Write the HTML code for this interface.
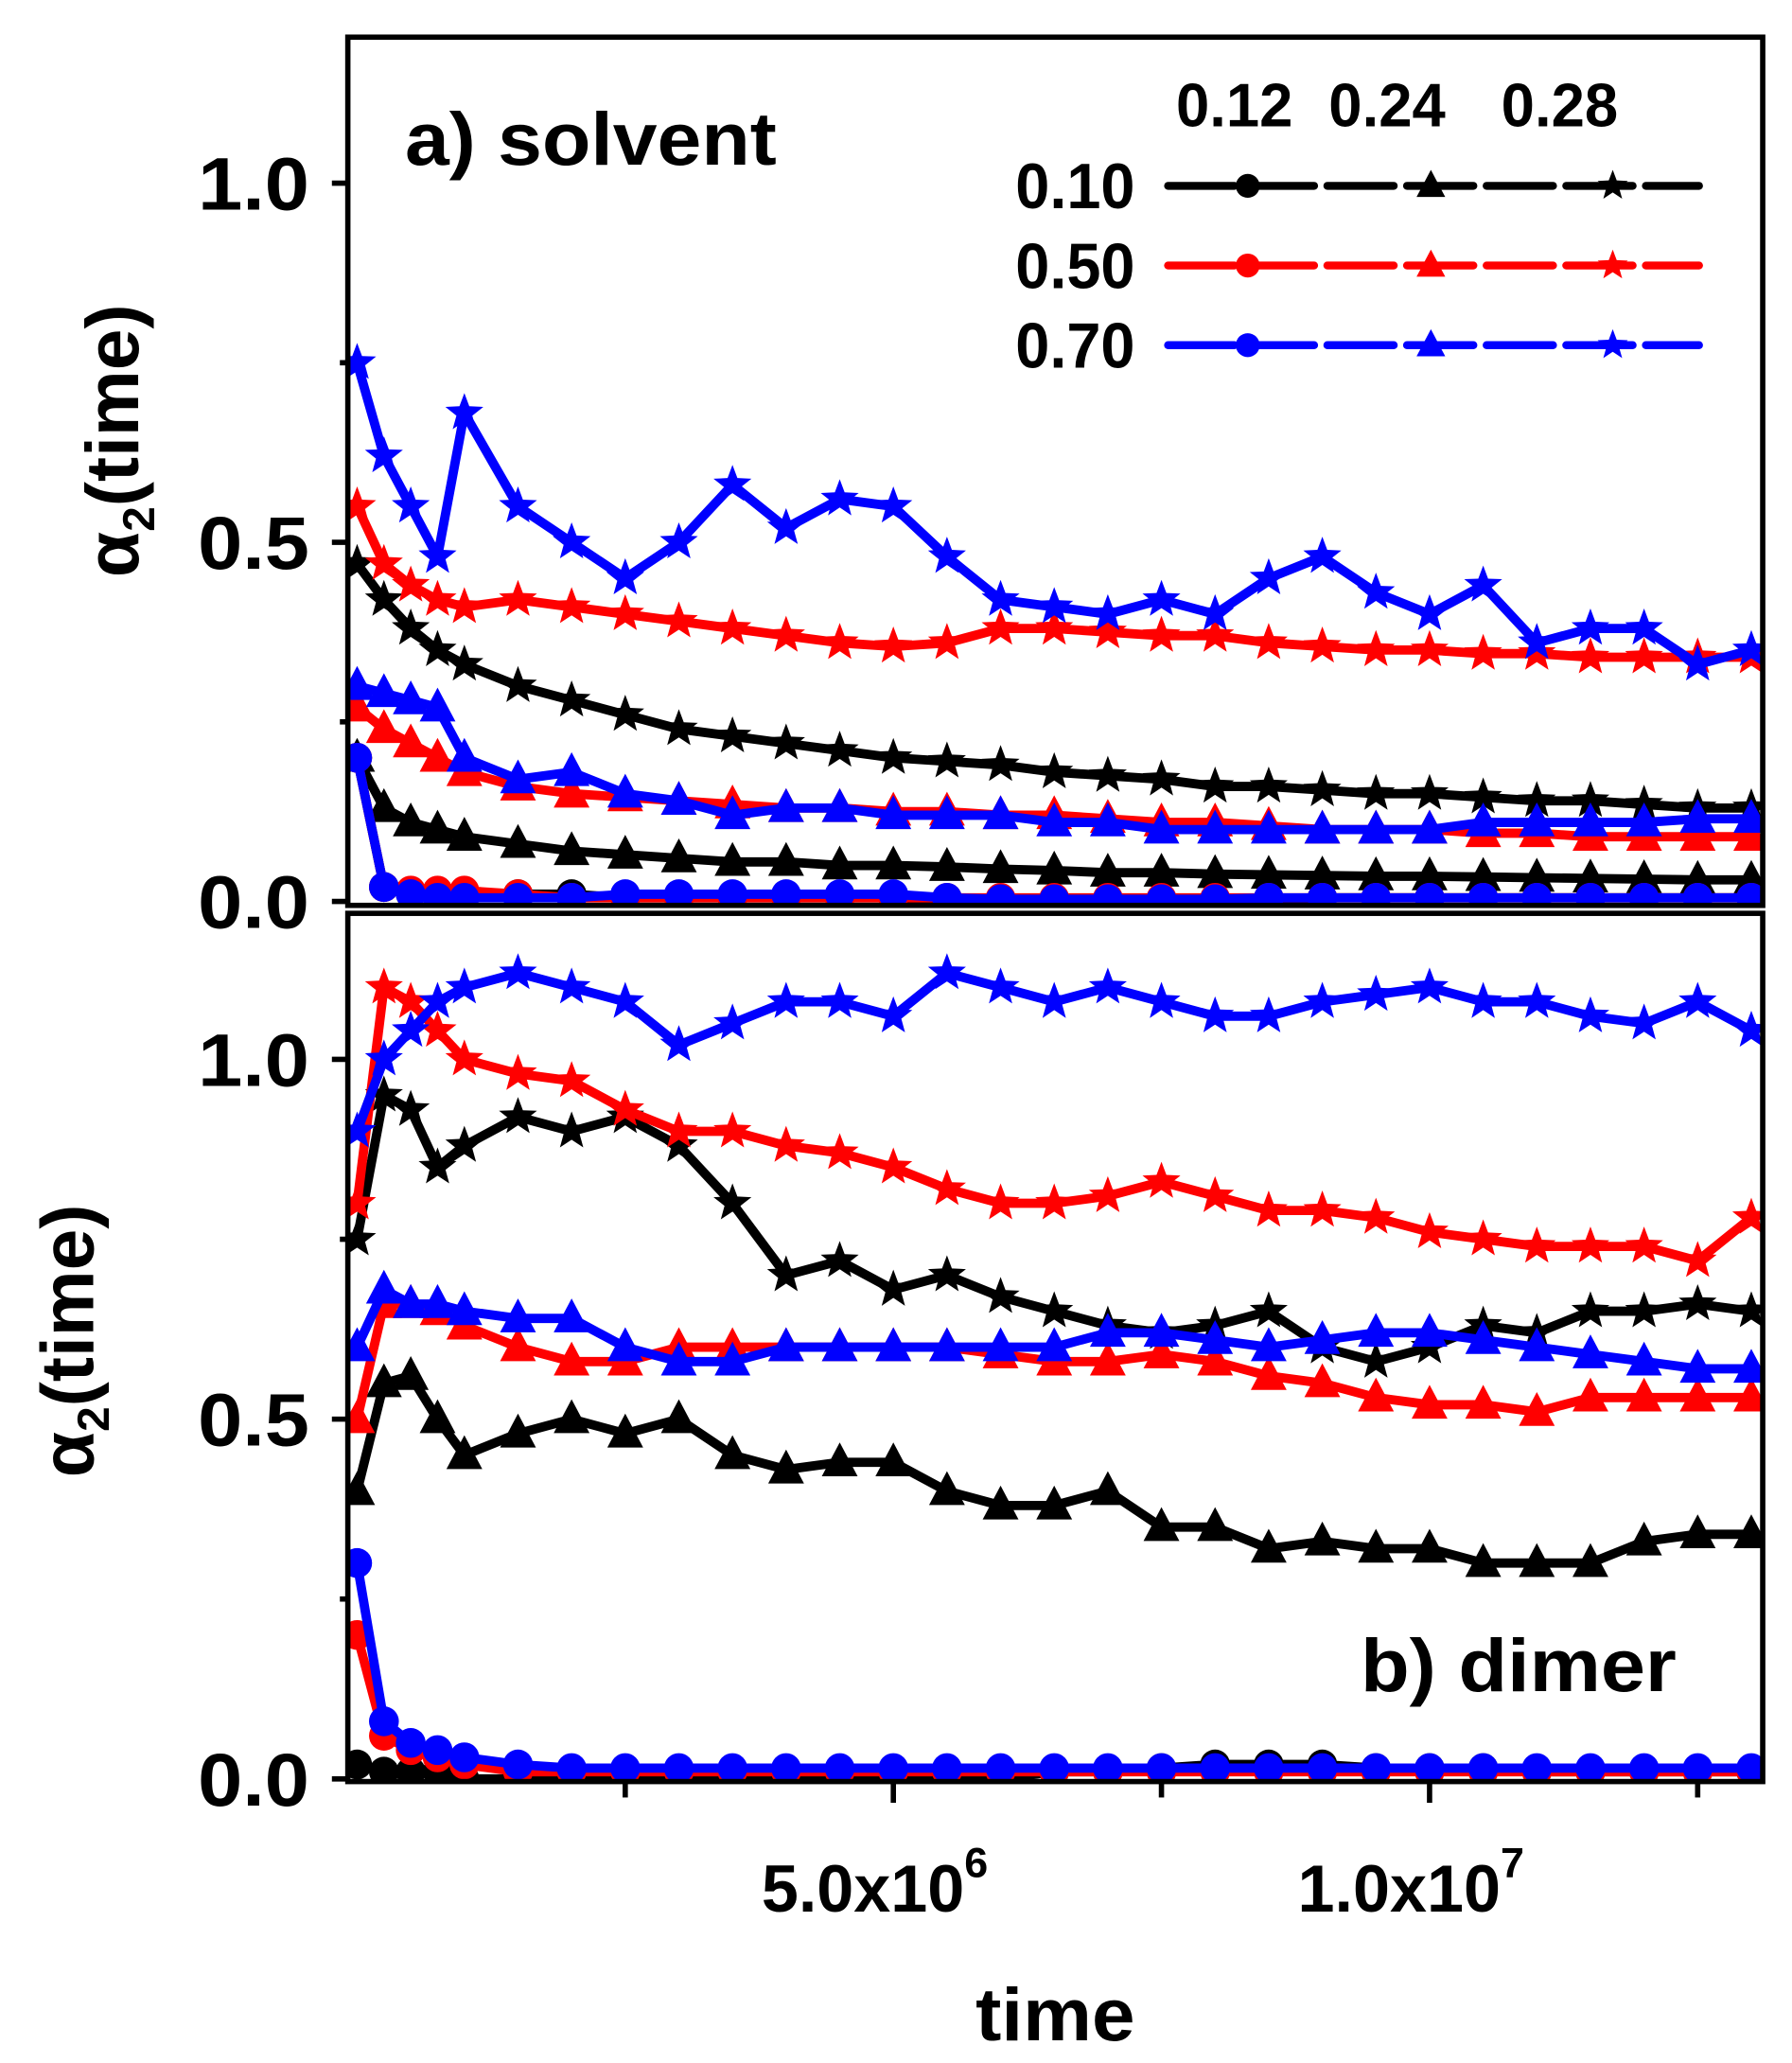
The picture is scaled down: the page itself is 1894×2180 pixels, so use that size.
<!DOCTYPE html>
<html><head><meta charset="utf-8"><title>alpha2 vs time</title>
<style>html,body{margin:0;padding:0;background:#fff}svg{display:block}text{font-family:"Liberation Sans",Arial,sans-serif;font-weight:bold;fill:#000}</style></head>
<body>
<svg id="chart" width="1894" height="2180" viewBox="0 0 1350 1554" xmlns="http://www.w3.org/2000/svg">
<defs>
<clipPath id="clipA"><rect x="262" y="28" width="1066" height="654"/></clipPath>
<clipPath id="clipB"><rect x="262" y="688" width="1066" height="654"/></clipPath>
</defs>
<g id="series-a" clip-path="url(#clipA)"></g>
<g id="series-b" clip-path="url(#clipB)"></g>
<rect x="262" y="28" width="1066" height="654" fill="none" stroke="#000" stroke-width="4"/>
<rect x="262" y="688" width="1066" height="654" fill="none" stroke="#000" stroke-width="4"/>
<g id="axes"></g>
<text x="305" y="124" font-size="56" textLength="280" lengthAdjust="spacingAndGlyphs">a) solvent</text>
<text x="1025" y="1274" font-size="56" textLength="238" lengthAdjust="spacingAndGlyphs">b) dimer</text>
<text x="795" y="1537" font-size="56" text-anchor="middle" textLength="120" lengthAdjust="spacingAndGlyphs">time</text>
<text transform="translate(104,332) rotate(-90)" font-size="56" text-anchor="middle">α<tspan font-size="34" dy="12">2</tspan><tspan dy="-12">(time)</tspan></text>
<text transform="translate(70,1010) rotate(-90)" font-size="56" text-anchor="middle">α<tspan font-size="34" dy="12">2</tspan><tspan dy="-12">(time)</tspan></text>
<g id="legend">
<text x="930" y="95" font-size="46" text-anchor="middle" textLength="88" lengthAdjust="spacingAndGlyphs">0.12</text>
<text x="1045" y="95" font-size="46" text-anchor="middle" textLength="88" lengthAdjust="spacingAndGlyphs">0.24</text>
<text x="1175" y="95" font-size="46" text-anchor="middle" textLength="88" lengthAdjust="spacingAndGlyphs">0.28</text>
<text x="810" y="157" font-size="48" text-anchor="middle" textLength="90" lengthAdjust="spacingAndGlyphs">0.10</text>
<text x="810" y="217" font-size="48" text-anchor="middle" textLength="90" lengthAdjust="spacingAndGlyphs">0.50</text>
<text x="810" y="277" font-size="48" text-anchor="middle" textLength="90" lengthAdjust="spacingAndGlyphs">0.70</text>
</g>
</svg>
<script>
const NS='http://www.w3.org/2000/svg';
const times=[0,0.25,0.5,0.75,1,1.5,2,2.5,3,3.5,4,4.5,5,5.5,6,6.5,7,7.5,8,8.5,9,9.5,10,10.5,11,11.5,12,12.5,13];
const colors=['#000000','#ff0000','#0000ff'];
const markers=['circle','triangle','star'];
const yTickLabels=['0.0','0.5','1.0'];
const yTickValues=[0,0.5,1.0];
const xTickValues=[5,10];
const xTickLabels=['5.0x10','1.0x10'];
const xTickExp=['6','7'];
const xMinorValues=[2.5,7.5,12.5];
// panel a: solvent
const aBlackCircle=[.2,.02,.01,.01,.01,.01,.01,.005,.005,.005,.005,.005,.005,.003,.003,.003,.003,.003,.003,.003,.005,.005,.005,.005,.005,.005,.005,.005,.005];
const aBlackTri=[.2,.13,.11,.1,.09,.08,.07,.065,.06,.055,.055,.05,.05,.048,.045,.043,.04,.04,.038,.037,.036,.035,.035,.034,.033,.032,.031,.03,.03];
const aBlackStar=[.47,.42,.38,.35,.33,.3,.28,.26,.24,.23,.22,.21,.2,.195,.19,.18,.175,.17,.16,.16,.155,.15,.15,.145,.14,.14,.135,.13,.13];
const aRedCircle=[.2,.02,.015,.015,.015,.01,.005,.005,.005,.005,.005,.005,.005,.005,.005,.005,.005,.005,.005,.005,.005,.005,.005,.005,.005,.005,.005,.005,.005];
const aRedTri=[.27,.24,.22,.2,.18,.16,.15,.145,.14,.135,.13,.13,.125,.125,.12,.12,.115,.11,.11,.105,.1,.1,.1,.095,.095,.09,.09,.09,.09];
const aRedStar=[.55,.47,.44,.42,.41,.42,.41,.4,.39,.38,.37,.36,.355,.36,.38,.38,.375,.37,.37,.36,.355,.35,.35,.345,.345,.34,.34,.34,.34];
const aBlueCircle=[.2,.02,.01,.005,.005,.005,.005,.01,.01,.01,.01,.01,.01,.005,.003,.003,.003,.003,.003,.005,.005,.005,.005,.005,.005,.005,.005,.005,.005];
const aBlueTri=[.3,.29,.28,.27,.2,.17,.18,.15,.14,.12,.13,.13,.12,.12,.12,.11,.11,.1,.1,.1,.1,.1,.1,.11,.11,.11,.11,.115,.115];
const aBlueStar=[.75,.62,.55,.48,.68,.55,.5,.45,.5,.58,.52,.56,.55,.48,.42,.41,.4,.42,.4,.45,.48,.43,.4,.44,.36,.38,.38,.33,.35];
// panel b: dimer
const bBlackCircle=[.02,.01,.01,.01,0,0,0,0,0,0,0,0,0,0,0,.01,.01,.015,.02,.02,.02,.015,.015,.015,.01,.01,.01,.01,.01];
const bBlackTri=[.4,.55,.56,.5,.45,.48,.5,.48,.5,.45,.43,.44,.44,.4,.38,.38,.4,.35,.35,.32,.33,.32,.32,.3,.3,.3,.33,.34,.34];
const bBlackStar=[.75,.95,.93,.85,.88,.92,.9,.92,.88,.8,.7,.72,.68,.7,.67,.65,.63,.62,.63,.65,.6,.58,.6,.63,.62,.65,.65,.66,.65];
const bRedCircle=[.2,.06,.04,.03,.02,.01,.01,.01,.01,.01,.01,.01,.01,.01,.01,.01,.01,.01,.01,.01,.01,.01,.01,.01,.01,.01,.01,.01,.01];
const bRedTri=[.5,.66,.66,.65,.63,.6,.58,.58,.6,.6,.6,.6,.6,.6,.59,.58,.58,.59,.58,.56,.55,.53,.52,.52,.51,.53,.53,.53,.53];
const bRedStar=[.8,1.1,1.08,1.04,1.0,.98,.97,.93,.9,.9,.88,.87,.85,.82,.8,.8,.81,.83,.81,.79,.79,.78,.76,.75,.74,.74,.74,.72,.78];
const bBlueCircle=[.3,.08,.05,.04,.03,.02,.015,.015,.015,.015,.015,.015,.015,.015,.015,.015,.015,.015,.015,.015,.015,.015,.015,.015,.015,.015,.015,.015,.015];
const bBlueTri=[.6,.68,.66,.66,.65,.64,.64,.6,.58,.58,.6,.6,.6,.6,.6,.6,.62,.62,.61,.6,.61,.62,.62,.61,.6,.59,.58,.57,.57];
const bBlueStar=[.9,1.0,1.04,1.08,1.1,1.12,1.1,1.08,1.02,1.05,1.08,1.08,1.06,1.12,1.1,1.08,1.1,1.08,1.06,1.06,1.08,1.09,1.1,1.08,1.08,1.06,1.05,1.08,1.04];

const xScale=t=>269+t*80.8;
const yScaleA=v=>679-v*541;
const yScaleB=v=>1340-v*542;

function markerEl(kind,x,y,color,s){
  let el;
  if(kind==='circle'){el=document.createElementNS(NS,'circle');el.setAttribute('cx',x);el.setAttribute('cy',y);el.setAttribute('r',s*0.75);}
  else if(kind==='triangle'){el=document.createElementNS(NS,'polygon');el.setAttribute('points',`${x},${y-s} ${x-s*0.9},${y+s*0.7} ${x+s*0.9},${y+s*0.7}`);}
  else{let p=[];for(let i=0;i<10;i++){const r=i%2?s*0.42:s;const a=-Math.PI/2+i*Math.PI/5;p.push((x+r*Math.cos(a)).toFixed(1)+','+(y+r*Math.sin(a)).toFixed(1));}
    el=document.createElementNS(NS,'polygon');el.setAttribute('points',p.join(' '));}
  el.setAttribute('fill',color);
  return el;
}
function drawSeries(gid,vals,color,kind,ys,name){
  const g=document.getElementById(gid);
  const grp=document.createElementNS(NS,'g');
  
  
  const pl=document.createElementNS(NS,'polyline');
  pl.setAttribute('points',vals.map((v,i)=>xScale(times[i])+','+ys(v)).join(' '));
  pl.setAttribute('fill','none');pl.setAttribute('stroke',color);pl.setAttribute('stroke-width','7');
  pl.setAttribute('stroke-linejoin','round');
  
  
  grp.appendChild(pl);
  vals.forEach((v,i)=>{
    const m=markerEl(kind,xScale(times[i]),ys(v),color,15);
    
    
    grp.appendChild(m);
  });
  g.appendChild(grp);
}
const aSets=[[aBlackCircle,aBlackTri,aBlackStar],[aRedCircle,aRedTri,aRedStar],[aBlueCircle,aBlueTri,aBlueStar]];
const bSets=[[bBlackCircle,bBlackTri,bBlackStar],[bRedCircle,bRedTri,bRedStar],[bBlueCircle,bBlueTri,bBlueStar]];
const cname=['black','red','blue'];
for(let c=0;c<3;c++)for(let m=0;m<3;m++){
  drawSeries('series-a',aSets[c][m],colors[c],markers[m],yScaleA,'solvent-'+cname[c]+'-'+markers[m]);
  drawSeries('series-b',bSets[c][m],colors[c],markers[m],yScaleB,'dimer-'+cname[c]+'-'+markers[m]);
}
// axes
const ax=document.getElementById('axes');
function line(x1,y1,x2,y2,w,name){const l=document.createElementNS(NS,'line');l.setAttribute('x1',x1);l.setAttribute('y1',y1);l.setAttribute('x2',x2);l.setAttribute('y2',y2);l.setAttribute('stroke','#000');l.setAttribute('stroke-width',w);
  
  
  ax.appendChild(l);}
function txt(x,y,s,size,anchor,name){const t=document.createElementNS(NS,'text');t.setAttribute('x',x);t.setAttribute('y',y);t.setAttribute('font-size',size);t.setAttribute('text-anchor',anchor);t.textContent=s;
  
  
  ax.appendChild(t);return t;}
[yScaleA,yScaleB].forEach((ys,p)=>{
  yTickValues.forEach((v,i)=>{line(250,ys(v),262,ys(v),4,'y-tick');
    const t=txt(233,ys(v)+20,yTickLabels[i],56,'end','y-tick-label');t.setAttribute('textLength','84');t.setAttribute('lengthAdjust','spacingAndGlyphs');});
  [0.25,0.75].forEach(v=>line(256,ys(v),262,ys(v),4,'y-minor-tick'));
});
xTickValues.forEach((v,i)=>{line(xScale(v),1342,xScale(v),1358,4,'x-tick');
  const t=txt(xScale(v)-14,1440,xTickLabels[i],50,'middle','x-tick-label');
  const sp=document.createElementNS(NS,'tspan');sp.setAttribute('font-size','32');sp.setAttribute('dy','-26');sp.textContent=xTickExp[i];t.appendChild(sp);});
xMinorValues.forEach(v=>line(xScale(v),1342,xScale(v),1354,4,'x-minor-tick'));
// legend lines
const lg=document.getElementById('legend');
[140,200,260].forEach((y,c)=>{
  const l=document.createElementNS(NS,'line');l.setAttribute('x1',880);l.setAttribute('y1',y);l.setAttribute('x2',1280);l.setAttribute('y2',y);
  l.setAttribute('stroke',colors[c]);l.setAttribute('stroke-width','6');l.setAttribute('stroke-dasharray','50,10');l.setAttribute('stroke-linecap','round');
  
  
  lg.appendChild(l);
  [940,1078,1215].forEach((x,m)=>{const e=markerEl(markers[m],x,y,colors[c],12);
    
    
    lg.appendChild(e);});
});
</script>
</body></html>
